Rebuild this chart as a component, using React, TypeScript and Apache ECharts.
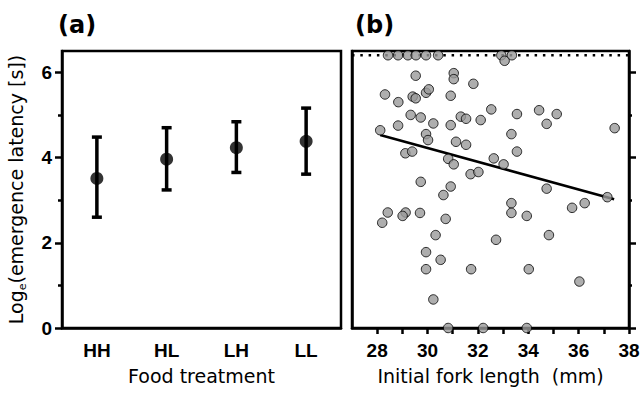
import React, { useEffect, useRef } from 'react';
import * as echarts from 'echarts';

// Panel (a): emergence latency by food treatment (mean with error bars)
const treatments = ['HH', 'HL', 'LH', 'LL'];
const treatmentMeans = [3.51, 3.96, 4.23, 4.38];
const treatmentUpper = [4.48, 4.7, 4.84, 5.16];
const treatmentLower = [2.6, 3.24, 3.65, 3.61];

// Panel (b): individual fish, initial fork length (mm) vs log latency
const forkLength = [
  28.43, 28.83, 29.22, 29.54, 29.94, 30.42, 32.93, 33.35, 33.06,
  29.53, 31.04, 31.04, 31.82, 28.31, 28.84, 29.41, 29.53, 29.94, 30.05,
  30.92, 29.33, 29.73, 30.23, 30.92, 31.32, 31.53, 32.11, 28.83, 28.12,
  29.94, 30.02, 31.13, 31.53, 29.12, 29.39, 30.82, 31.04, 31.71, 32.02,
  29.73, 30.92, 32.53, 33.55, 34.43, 35.13, 34.73, 33.33, 37.43, 33.55,
  32.63, 33.02, 34.73, 30.63, 28.42, 28.2, 29.13, 29.01, 29.7, 30.72,
  30.32, 29.94, 30.52, 29.94, 31.73, 30.23, 30.82, 32.21, 33.33, 33.33,
  33.94, 37.14, 35.74, 36.24, 32.72, 34.82, 34.02, 36.03, 33.94,
];
const logLatency = [
  6.4, 6.4, 6.4, 6.4, 6.4, 6.4, 6.4, 6.4, 6.27,
  5.92, 5.98, 5.84, 5.73, 5.48, 5.3, 5.43, 5.39, 5.52, 5.6,
  5.45, 5.0, 4.94, 4.8, 4.76, 4.96, 4.91, 4.88, 4.75, 4.64,
  4.55, 4.41, 4.37, 4.3, 4.1, 4.14, 3.97, 3.84, 3.61, 3.66,
  3.43, 3.32, 5.13, 5.02, 5.11, 5.02, 4.79, 4.55, 4.69, 4.14,
  3.98, 3.84, 3.27, 3.12, 2.71, 2.47, 2.71, 2.63, 2.7, 2.56,
  2.18, 1.78, 1.6, 1.38, 1.38, 0.67, 0, 0, 2.93, 2.7,
  2.63, 3.07, 2.82, 2.93, 2.07, 2.18, 1.38, 1.09, 0,
];

// Fitted regression line end points and the latency ceiling
const fitStart = [28.12, 4.53];
const fitEnd = [37.41, 3.02];
const latencyCeiling = 6.4;

// Axis tick values
const latencyTicks = [0, 2, 4, 6];
const latencyMinorTicks = [1, 3, 5];
const forkTicks = [28, 29, 30, 31, 32, 33, 34, 35, 36, 37, 38];
const forkLabels = [28, 30, 32, 34, 36, 38];

const BLACK = '#000';
const LINE_W = 2.5;
const tickFont = {
  fontFamily: '"Liberation Sans", Arial, sans-serif',
  fontWeight: 'bold' as const,
  fontSize: 19,
  color: BLACK,
};
const titleFont = '"DejaVu Sans", sans-serif';

// A y-axis that only contributes short ticks at the odd values
function minorTickAxis(gridIndex: number, position: 'left' | 'right', length: number) {
  return {
    gridIndex,
    type: 'value',
    min: 0,
    max: 6.5,
    interval: 1,
    position,
    axisLine: { show: false, onZero: false },
    axisTick: { show: true, customValues: latencyMinorTicks, length, lineStyle: { color: BLACK, width: LINE_W } },
    axisLabel: { show: false },
    splitLine: { show: false },
  };
}

export default function App() {
  const ref = useRef<HTMLDivElement>(null);

  useEffect(() => {
    if (!ref.current) return;
    const chart = echarts.init(ref.current, undefined, { renderer: 'svg' });

    const scatterData = forkLength.map((x, i) => [x, logLatency[i]]);
    const errorData = treatments.map((_, i) => [i, treatmentLower[i], treatmentUpper[i]]);

    const option: any = {
      animation: false,
      backgroundColor: '#fff',
      graphic: [
        {
          type: 'text',
          x: 58,
          y: 25,
          style: {
            text: '(a)',
            fontFamily: titleFont,
            fontWeight: 'bold',
            fontSize: 24,
            fill: BLACK,
            verticalAlign: 'middle',
            align: 'left',
          },
        },
        {
          type: 'text',
          x: 355,
          y: 25,
          style: {
            text: '(b)',
            fontFamily: titleFont,
            fontWeight: 'bold',
            fontSize: 24,
            fill: BLACK,
            verticalAlign: 'middle',
            align: 'left',
          },
        },
      ],
      grid: [
        {
          left: 62,
          top: 51,
          width: 279,
          height: 277,
          show: true,
          borderColor: BLACK,
          borderWidth: LINE_W,
          backgroundColor: 'transparent',
        },
        {
          left: 352,
          top: 51,
          width: 277,
          height: 277,
          show: true,
          borderColor: BLACK,
          borderWidth: LINE_W,
          backgroundColor: 'transparent',
        },
      ],
      xAxis: [
        {
          gridIndex: 0,
          type: 'category',
          data: treatments,
          boundaryGap: true,
          axisLine: { lineStyle: { color: BLACK, width: LINE_W } },
          axisTick: { alignWithLabel: true, length: 7, lineStyle: { color: BLACK, width: LINE_W } },
          axisLabel: { ...tickFont, margin: 13 },
          splitLine: { show: false },
          name: 'Food treatment',
          nameLocation: 'middle',
          nameGap: 38,
          nameTextStyle: { fontFamily: titleFont, fontSize: 19, color: BLACK },
        },
        {
          gridIndex: 1,
          type: 'value',
          min: 27,
          max: 38,
          interval: 1,
          axisLine: { onZero: false, lineStyle: { color: BLACK, width: LINE_W } },
          axisTick: { customValues: forkTicks, length: 6, lineStyle: { color: BLACK, width: LINE_W } },
          axisLabel: { ...tickFont, margin: 13, customValues: forkLabels },
          splitLine: { show: false },
          name: 'Initial fork length  (mm)',
          nameLocation: 'middle',
          nameGap: 38,
          nameTextStyle: { fontFamily: titleFont, fontSize: 19, color: BLACK },
        },
      ],
      yAxis: [
        {
          gridIndex: 0,
          type: 'value',
          min: 0,
          max: 6.5,
          interval: 2,
          axisLine: { show: true, lineStyle: { color: BLACK, width: LINE_W } },
          axisTick: { show: true, customValues: latencyTicks, length: 7, lineStyle: { color: BLACK, width: LINE_W } },
          axisLabel: { ...tickFont, margin: 10, customValues: latencyTicks },
          splitLine: { show: false },
          name: '{n|Log}{s|e}{n|(emergence latency [s])}',
          nameLocation: 'middle',
          nameRotate: 90,
          nameGap: 34,
          nameTextStyle: {
            fontFamily: titleFont,
            fontSize: 19,
            color: BLACK,
            rich: {
              n: { fontFamily: titleFont, fontSize: 19, color: BLACK, lineHeight: 24 },
              s: { fontFamily: titleFont, fontSize: 11, color: BLACK, lineHeight: 12, verticalAlign: 'bottom' },
            },
          },
        },
        {
          gridIndex: 1,
          type: 'value',
          min: 0,
          max: 6.5,
          interval: 2,
          position: 'left',
          axisLine: { show: true, onZero: false, lineStyle: { color: BLACK, width: LINE_W } },
          axisTick: { show: false },
          axisLabel: { show: false },
          splitLine: { show: false },
        },
        {
          gridIndex: 1,
          type: 'value',
          min: 0,
          max: 6.5,
          interval: 2,
          position: 'right',
          axisLine: { show: true, onZero: false, lineStyle: { color: BLACK, width: LINE_W } },
          axisTick: { show: true, customValues: latencyTicks, length: 7, lineStyle: { color: BLACK, width: LINE_W } },
          axisLabel: { show: false },
          splitLine: { show: false },
        },
        minorTickAxis(0, 'left', 4),
        minorTickAxis(1, 'right', 3),
      ],
      series: [
        {
          type: 'custom',
          xAxisIndex: 0,
          yAxisIndex: 0,
          data: errorData,
          renderItem: (params: any, api: any) => {
            const x = api.value(0);
            const lo = api.coord([x, api.value(1)]);
            const hi = api.coord([x, api.value(2)]);
            const half = 5;
            const style = { stroke: BLACK, lineWidth: 3.5, fill: 'none' };
            return {
              type: 'group',
              children: [
                { type: 'line', shape: { x1: lo[0], y1: lo[1], x2: hi[0], y2: hi[1] }, style },
                { type: 'line', shape: { x1: hi[0] - half, y1: hi[1], x2: hi[0] + half, y2: hi[1] }, style },
                { type: 'line', shape: { x1: lo[0] - half, y1: lo[1], x2: lo[0] + half, y2: lo[1] }, style },
              ],
            };
          },
          z: 3,
        },
        {
          type: 'scatter',
          xAxisIndex: 0,
          yAxisIndex: 0,
          data: treatmentMeans,
          symbol: 'circle',
          symbolSize: 13,
          itemStyle: { color: BLACK },
          z: 4,
        },
        {
          type: 'line',
          xAxisIndex: 1,
          yAxisIndex: 1,
          data: [
            [27, latencyCeiling],
            [38, latencyCeiling],
          ],
          symbol: 'none',
          lineStyle: { color: BLACK, width: 2.5, type: [2.5, 5.8] },
          z: 2,
        },
        {
          type: 'line',
          xAxisIndex: 1,
          yAxisIndex: 1,
          data: [fitStart, fitEnd],
          symbol: 'none',
          lineStyle: { color: BLACK, width: 2.5 },
          z: 2,
        },
        {
          type: 'scatter',
          xAxisIndex: 1,
          yAxisIndex: 1,
          data: scatterData,
          symbol: 'circle',
          symbolSize: 9.5,
          clip: false,
          itemStyle: { color: '#9a9a9a', borderColor: BLACK, borderWidth: 1 },
          z: 5,
        },
      ],
    };

    chart.setOption(option);
    return () => chart.dispose();
  }, []);

  return (
    <div
      ref={ref}
      style={{ position: 'absolute', left: 0, top: 0, width: 643, height: 394, background: '#fff' }}
    />
  );
}
